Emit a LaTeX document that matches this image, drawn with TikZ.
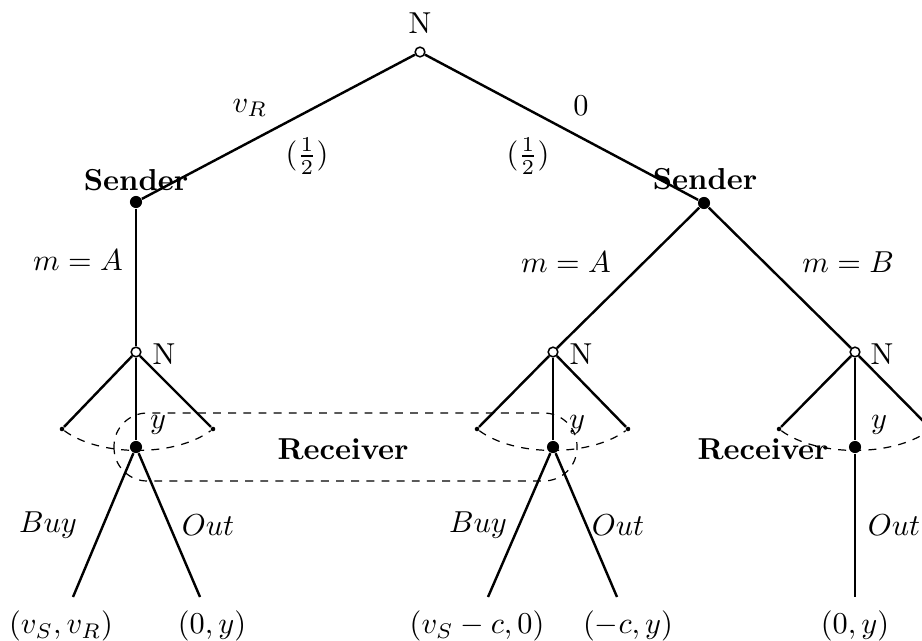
\documentclass[tikz,border=0pt]{standalone}
\begin{document}
\begin{tikzpicture}[x=0.33pt,y=-0.33pt,
  edge/.style={line width=0.8pt},
  chance/.style={circle,draw,fill=white,line width=0.5pt,inner sep=0pt,minimum size=3.2pt},
  dec/.style={circle,fill=black,inner sep=0pt,minimum size=4pt},
  enddot/.style={circle,fill=black,inner sep=0pt,minimum size=1.5pt},
  infoset/.style={dash pattern=on 2.6pt off 2.4pt,line width=0.4pt},
  lab/.style={inner sep=0pt}]
\useasboundingbox (0,0) rectangle (922,640);
% decision and chance nodes
\node[chance] (r) at (420,52) {};
\node[dec] (sL) at (136,202) {};
\node[dec] (sR) at (704,203) {};
\node[chance] (nL) at (136,352) {};
\node[chance] (nM) at (553,352) {};
\node[chance] (nR) at (855,352) {};
\node[enddot] (aL) at (62,429) {};
\node[enddot] (bL) at (213,429) {};
\node[enddot] (aM) at (477,429) {};
\node[enddot] (bM) at (628,429) {};
\node[enddot] (aR) at (779,429) {};
\node[enddot] (bR) at (931,429) {};
\node[dec] (rL) at (136,447) {};
\node[dec] (rM) at (553,447) {};
\node[dec] (rR) at (855,447) {};
\coordinate (l1) at (73,597);
\coordinate (l2) at (200,597);
\coordinate (l3) at (488,597);
\coordinate (l4) at (617,597);
\coordinate (l5) at (855,597);
% edges
\draw[edge] (r) -- (sL);
\draw[edge] (r) -- (sR);
\draw[edge] (sL) -- (nL);
\draw[edge] (sR) -- (nM);
\draw[edge] (sR) -- (nR);
\draw[edge] (nL) -- (aL);
\draw[edge] (nL) -- (rL);
\draw[edge] (nL) -- (bL);
\draw[edge] (nM) -- (aM);
\draw[edge] (nM) -- (rM);
\draw[edge] (nM) -- (bM);
\draw[edge] (nR) -- (aR);
\draw[edge] (nR) -- (rR);
\draw[edge] (nR) -- (bR);
\draw[edge] (rL) -- (l1);
\draw[edge] (rL) -- (l2);
\draw[edge] (rM) -- (l3);
\draw[edge] (rM) -- (l4);
\draw[edge] (rR) -- (l5);
% dashed arcs and information set
\draw[infoset] (aL) .. controls (100,457) and (175,457) .. (bL);
\draw[infoset] (aM) .. controls (515,457) and (590,457) .. (bM);
\draw[infoset] (aR) .. controls (817,457) and (893,457) .. (bR);
\draw[infoset,rounded corners=11pt] (114,413) rectangle (577,481);
% labels
\node[lab] (tN) at (420,23) {N};
\node[lab] (tvr) at (250,108) {$v_R$};
\node[lab] (th1) at (307,156) {$(\frac{1}{2})$};
\node[lab] (t0) at (581,106) {$0$};
\node[lab] (th2) at (528,156) {$(\frac{1}{2})$};
\node[lab] (tsL) at (136,180) {\textbf{Sender}};
\node[lab] (tsR) at (705,179) {\textbf{Sender}};
\node[lab] (tmA1) at (78,260) {$m=A$};
\node[lab] (tmA2) at (566,262) {$m=A$};
\node[lab] (tmB) at (848,262) {$m=B$};
\node[lab] (tN1) at (164,354) {N};
\node[lab] (tN2) at (581,354) {N};
\node[lab] (tN3) at (882,354) {N};
\node[lab] (ty1) at (158,425) {$y$};
\node[lab] (ty2) at (577,425) {$y$};
\node[lab] (ty3) at (879,425) {$y$};
\node[lab] (trc1) at (343,449) {\textbf{Receiver}};
\node[lab] (trc2) at (763,449) {\textbf{Receiver}};
\node[lab] (tb1) at (48,525) {$Buy$};
\node[lab] (to1) at (208,525) {$Out$};
\node[lab] (tb2) at (478,525) {$Buy$};
\node[lab] (to2) at (618,525) {$Out$};
\node[lab] (to3) at (894,525) {$Out$};
\node[lab] (p1) at (61,626) {$(v_S,v_R)$};
\node[lab] (p2) at (212,626) {$(0,y)$};
\node[lab] (p3) at (477,626) {$(v_S-c,0)$};
\node[lab] (p4) at (628,626) {$(-c,y)$};
\node[lab] (p5) at (855,626) {$(0,y)$};
\end{tikzpicture}
\end{document}
